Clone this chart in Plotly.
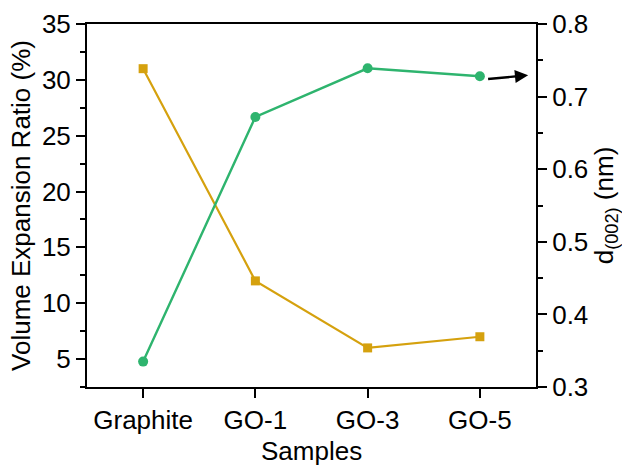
import plotly.graph_objects as go

samples = ["Graphite", "GO-1", "GO-3", "GO-5"]
volume_expansion = [31.0, 12.0, 6.0, 7.0]
d002 = [0.335, 0.672, 0.739, 0.728]

yellow = "#D5A10E"
green = "#2EB46E"
font = "Liberation Sans, Arial, sans-serif"

fig = go.Figure()
fig.add_trace(go.Scatter(
    x=samples, y=volume_expansion, mode="lines+markers",
    line=dict(color=yellow, width=2.2),
    marker=dict(symbol="square", size=9, color=yellow),
    yaxis="y", showlegend=False))
fig.add_trace(go.Scatter(
    x=samples, y=d002, mode="lines+markers",
    line=dict(color=green, width=2.4),
    marker=dict(symbol="circle", size=10, color=green),
    yaxis="y2", showlegend=False))

fig.add_annotation(
    x=3.43, y=0.7295, ax=3.06, ay=0.724,
    xref="x", yref="y2", axref="x", ayref="y2",
    showarrow=True, arrowhead=2, arrowsize=1.1, arrowwidth=2.4,
    arrowcolor="black", text="")

tick_font = dict(family=font, size=26, color="black")
title_font = dict(family=font, size=26, color="black")

fig.add_annotation(
    text="Samples", xref="paper", yref="paper", x=0.5, y=-0.175,
    xanchor="center", yanchor="middle", showarrow=False, font=title_font)

axis_common = dict(
    showline=True, linecolor="black", linewidth=2,
    ticks="outside", ticklen=9, tickwidth=2, tickcolor="black",
    showgrid=False, zeroline=False, automargin=False,
    tickfont=tick_font,
)

fig.update_layout(
    width=622, height=468,
    margin=dict(l=87, r=86, t=24, b=81),
    plot_bgcolor="white", paper_bgcolor="white",
    xaxis=dict(
        **axis_common,
        range=[-0.5, 3.5], mirror=True,
    ),
    yaxis=dict(
        **axis_common,
        range=[2.5, 35], tickvals=[5, 10, 15, 20, 25, 30, 35],
        minor=dict(ticks="outside", ticklen=5, tickwidth=2, tickcolor="black", dtick=2.5, tick0=0),
        title=dict(text="Volume Expansion Ratio (%)", standoff=4, font=title_font),
    ),
    yaxis2=dict(
        **axis_common,
        overlaying="y", side="right",
        range=[0.3, 0.8], tickvals=[0.3, 0.4, 0.5, 0.6, 0.7, 0.8],
        ticktext=["0.3", "0.4", "0.5", "0.6", "0.7", "0.8"],
        minor=dict(ticks="outside", ticklen=5, tickwidth=2, tickcolor="black", dtick=0.05, tick0=0.3),
        title=dict(text="d<sub>(002)</sub> (nm)", standoff=12, font=title_font),
    ),
)

fig.write_html("out.html")
